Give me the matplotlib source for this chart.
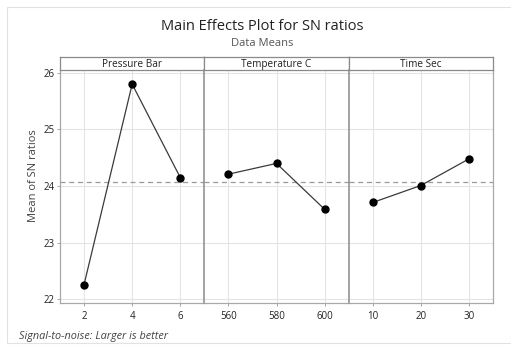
import matplotlib
matplotlib.use("Agg")
import matplotlib.pyplot as plt
from matplotlib.patches import Rectangle

plt.rcParams['font.family'] = ['Open Sans', 'DejaVu Sans']

factors = ["Pressure Bar", "Temperature C", "Time Sec"]
levels = [["2", "4", "6"], ["560", "580", "600"], ["10", "20", "30"]]
sn_means = [[22.26, 25.80, 24.15], [24.21, 24.40, 23.59], [23.71, 24.01, 24.48]]
grand_mean = 24.08
yticks = [22, 23, 24, 25, 26]

W, H = 511, 346
fig = plt.figure(figsize=(W / 100, H / 100), dpi=100)

# outer frame
fig.add_artist(Rectangle((7 / W, 3 / H), (W - 7) / W, (H - 10) / H, transform=fig.transFigure,
                         fill=False, edgecolor="#e2e2e2", lw=0.8))

fig.text(262 / W, 1 - 27 / H, "Main Effects Plot for SN ratios", ha="center", va="center",
         fontsize=10.5, color="#222222")
fig.text(262 / W, 1 - 43 / H, "Data Means", ha="center", va="center", fontsize=8, color="#555555")
fig.text(19 / W, 1 - 336 / H, "Signal-to-noise: Larger is better", ha="left", va="center",
         fontsize=7.8, style="italic", color="#444444")
fig.text(33 / W, 1 - 176 / H, "Mean of SN ratios", ha="center", va="center", rotation=90,
         fontsize=8, color="#444444")

left, right = 60, 493
top, bottom = 70, 302.7
head_top = 57
pw = (right - left) / 3

for i in range(3):
    x0 = left + i * pw
    ax = fig.add_axes([x0 / W, 1 - bottom / H, pw / W, (bottom - top) / H])
    xs = list(range(len(levels[i])))
    ax.axhline(grand_mean, color="#9a9a9a", lw=0.9, ls=(0, (4, 3)), zorder=1)
    ax.plot(xs, sn_means[i], color="#3a3a3a", lw=0.9, marker="o", ms=5,
            mfc="black", mec="black", zorder=3)
    ax.set_xlim(-0.5, 2.5)
    ax.set_ylim(21.94, 26.05)
    ax.set_xticks(xs)
    ax.set_xticklabels(levels[i])
    ax.set_yticks(yticks)
    ax.grid(True, color="#e4e4e4", lw=0.8)
    ax.set_axisbelow(True)
    ax.tick_params(axis="x", length=2, width=0.6, color="#999999", labelsize=7,
                   labelcolor="#222222", pad=4)
    ax.tick_params(axis="y", length=2, width=0.6, color="#999999", labelsize=7,
                   labelcolor="#222222", pad=2)
    for s in ax.spines.values():
        s.set_color("#a8a8a8")
        s.set_linewidth(0.9)
    ax.spines["top"].set_visible(False)
    if i > 0:
        ax.tick_params(axis="y", left=False, labelleft=False)
        ax.spines["left"].set_color("#8a8a8a")
        ax.spines["left"].set_linewidth(1.1)
    if i < 2:
        ax.spines["right"].set_visible(False)
    else:
        ax.tick_params(axis="y", right=False)

    # strip header
    hx = fig.add_axes([x0 / W, 1 - top / H, pw / W, (top - head_top) / H])
    hx.set_xticks([])
    hx.set_yticks([])
    for s in hx.spines.values():
        s.set_color("#8a8a8a")
        s.set_linewidth(0.9)
    hx.text(0.5, 0.45, factors[i], ha="center", va="center", fontsize=7.2, color="#222222",
            transform=hx.transAxes)

fig.savefig("out.png", dpi=100)
